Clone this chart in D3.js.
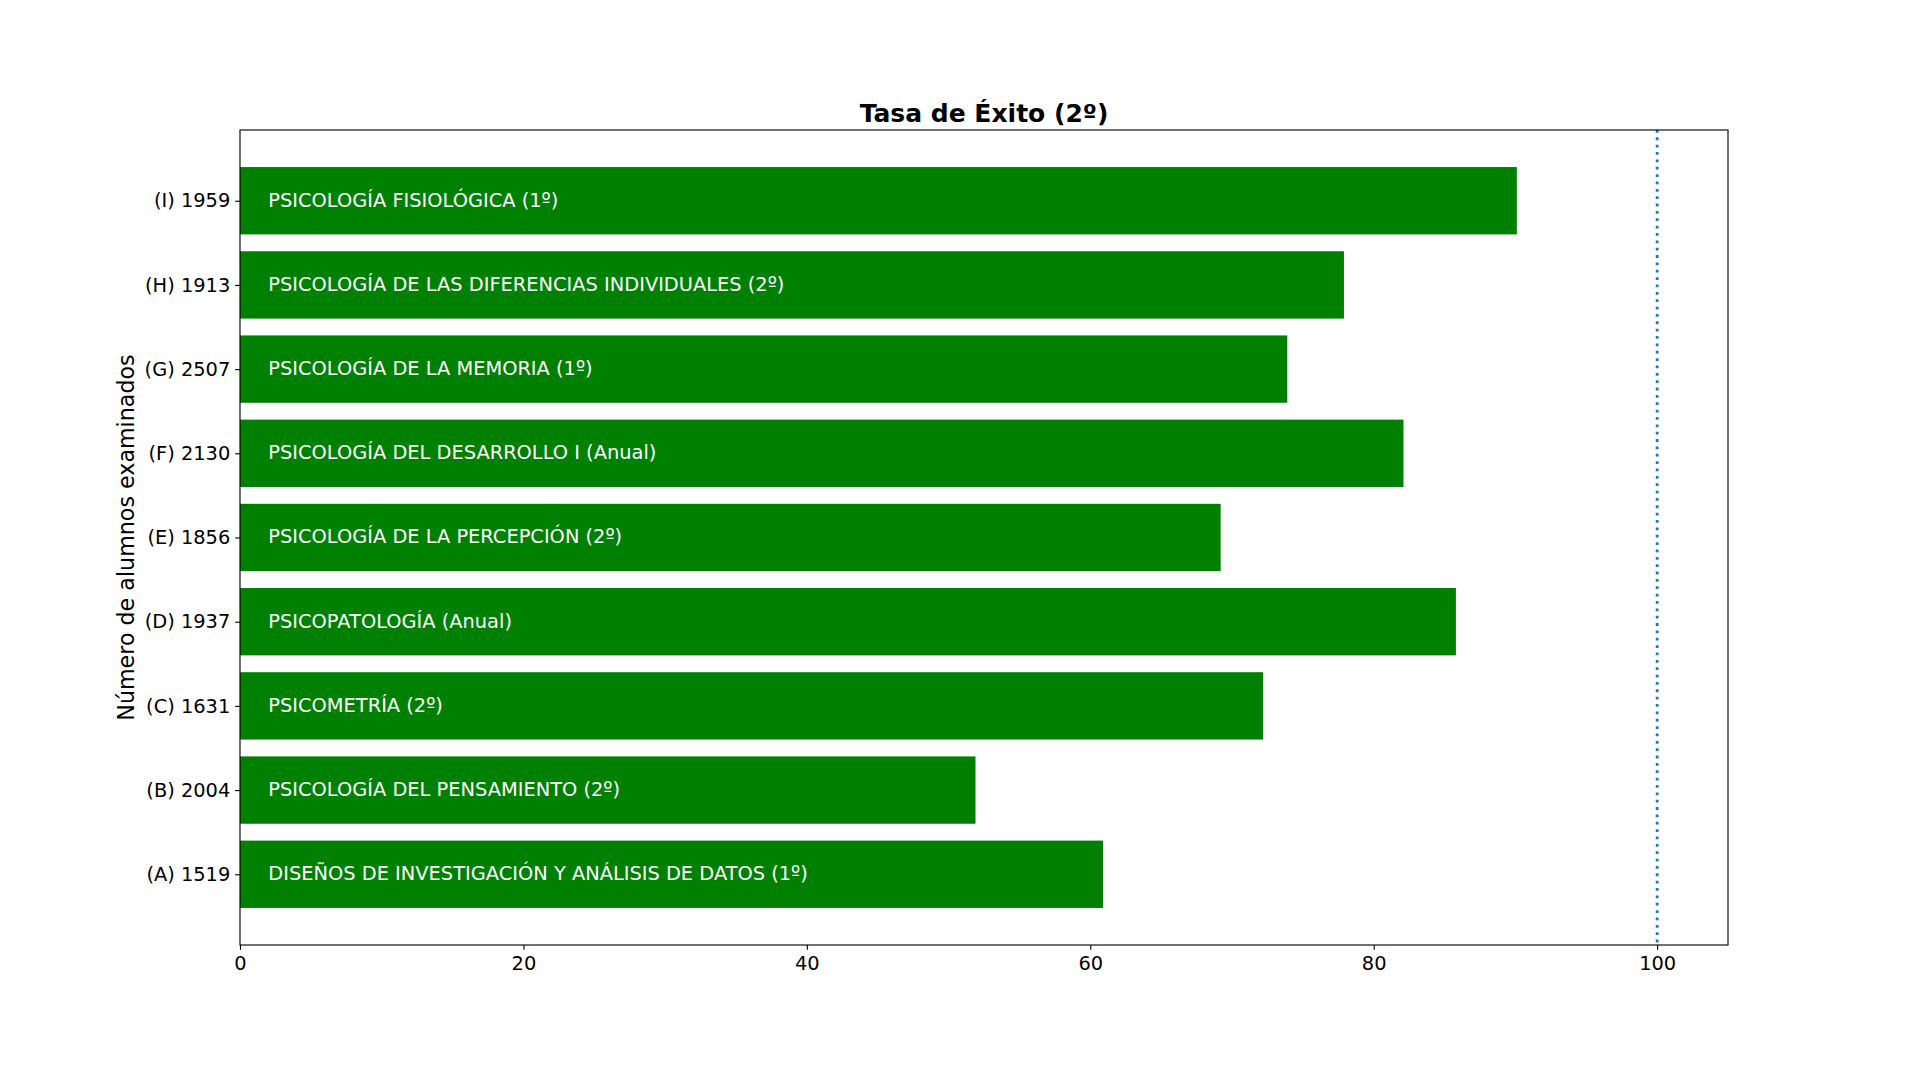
<!DOCTYPE html>
<html>
<head>
<meta charset="utf-8">
<script src="https://cdn.jsdelivr.net/npm/d3@7"></script>
<style>
  html, body { margin: 0; padding: 0; background: #fff; }
  svg { display: block; font-family: "DejaVu Sans", sans-serif; }
</style>
</head>
<body>
<svg id="chart" width="1920" height="1080"></svg>
<script>
// Data (bottom to top, as plotted)
const tickLabels = ["(A) 1519", "(B) 2004", "(C) 1631", "(D) 1937", "(E) 1856", "(F) 2130", "(G) 2507", "(H) 1913", "(I) 1959"];
const subjects = [
  "DISEÑOS DE INVESTIGACIÓN Y ANÁLISIS DE DATOS (1º)",
  "PSICOLOGÍA DEL PENSAMIENTO (2º)",
  "PSICOMETRÍA (2º)",
  "PSICOPATOLOGÍA (Anual)",
  "PSICOLOGÍA DE LA PERCEPCIÓN (2º)",
  "PSICOLOGÍA DEL DESARROLLO I (Anual)",
  "PSICOLOGÍA DE LA MEMORIA (1º)",
  "PSICOLOGÍA DE LAS DIFERENCIAS INDIVIDUALES (2º)",
  "PSICOLOGÍA FISIOLÓGICA (1º)"
];
const successRate = [60.9, 51.9, 72.2, 85.8, 69.2, 82.1, 73.9, 77.9, 90.1];
const xTicks = [0, 20, 40, 60, 80, 100];
const refLine = 100;
const title = "Tasa de Éxito (2º)";
const yLabel = "Número de alumnos examinados";

const L = 240, R = 1728, T = 130, B = 945;
const FS = 19.4;
const svg = d3.select("#chart");

const x = d3.scaleLinear().domain([0, 105]).range([L, R]);
const n = successRate.length;
const y = d3.scaleLinear().domain([-0.84, n - 1 + 0.84]).range([B, T]);
const barH = 0.8;

// Bars
svg.append("g").selectAll("rect").data(successRate).join("rect")
  .attr("x", x(0))
  .attr("y", (d, i) => y(i + barH / 2))
  .attr("width", d => x(d) - x(0))
  .attr("height", (d, i) => y(i - barH / 2) - y(i + barH / 2))
  .attr("fill", "#008000");

// Bar labels
svg.append("g").selectAll("text").data(subjects).join("text")
  .attr("x", x(2))
  .attr("y", (d, i) => y(i))
  .attr("dy", "0.3em")
  .attr("fill", "#fff")
  .attr("font-size", FS + "px")
  .text(d => d);

// Reference line
svg.append("line")
  .attr("x1", x(refLine)).attr("x2", x(refLine))
  .attr("y1", T).attr("y2", B)
  .attr("stroke", "#1f77b4")
  .attr("stroke-width", 2.78)
  .attr("stroke-dasharray", "2.78,4.58");

// X axis
const xAxis = d3.axisBottom(x).tickValues(xTicks).tickSize(4.86).tickPadding(6.5).tickFormat(d3.format("d"));
const gx = svg.append("g").attr("transform", `translate(0,${B})`).call(xAxis);
gx.select(".domain").remove();
gx.selectAll("line").attr("stroke", "#000").attr("stroke-width", 1.11);
gx.selectAll("text").attr("font-size", FS + "px").attr("fill", "#000").attr("font-family", "DejaVu Sans, sans-serif");

// Y axis
const yAxis = d3.axisLeft(y).tickValues(d3.range(n)).tickSize(4.86).tickPadding(4.86).tickFormat(i => tickLabels[i]);
const gy = svg.append("g").attr("transform", `translate(${L},0)`).call(yAxis);
gy.select(".domain").remove();
gy.selectAll("line").attr("stroke", "#000").attr("stroke-width", 1.11);
gy.selectAll("text").attr("font-size", FS + "px").attr("fill", "#000").attr("font-family", "DejaVu Sans, sans-serif");

// Frame
svg.append("rect")
  .attr("x", L).attr("y", T).attr("width", R - L).attr("height", B - T)
  .attr("fill", "none").attr("stroke", "#000").attr("stroke-width", 1.11);

// Title
svg.append("text")
  .attr("x", (L + R) / 2).attr("y", T - 8.3)
  .attr("text-anchor", "middle")
  .attr("font-size", "25px").attr("font-weight", "bold")
  .text(title);

// Y label
svg.append("text")
  .attr("transform", `translate(126,${(T + B) / 2}) rotate(-90)`)
  .attr("text-anchor", "middle")
  .attr("dy", "0.35em")
  .attr("font-size", "22.2px")
  .text(yLabel);
</script>
</body>
</html>
